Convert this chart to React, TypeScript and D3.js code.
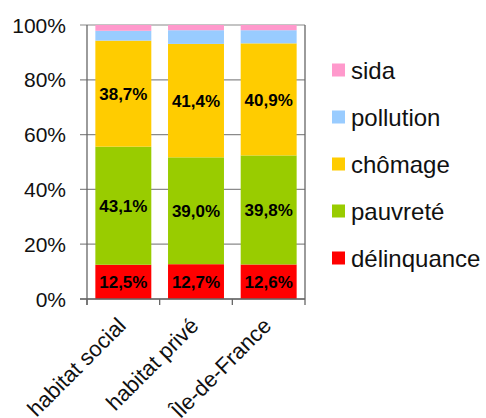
import React from "react";
import * as d3 from "d3";

const categories = ["habitat social", "habitat privé", "Île-de-France"];
const seriesNames = ["délinquance", "pauvreté", "chômage", "pollution", "sida"];
const delinquance = [12.5, 12.7, 12.6];
const pauvrete = [43.1, 39.0, 39.8];
const chomage = [38.7, 41.4, 40.9];
const pollution = [3.6, 5.0, 4.8];
const sida = [2.1, 1.9, 1.9];
const labelled = [true, true, true, false, false];
const colors = ["#FF0000", "#99CC00", "#FFCC00", "#99CCFF", "#FF99CC"];
const yTicks = [0, 20, 40, 60, 80, 100];

const W = 486;
const H = 418;
const left = 87;
const right = 305;
const top = 25;
const bottom = 299;
const font = "'Liberation Sans', Arial, sans-serif";

export default function App() {
  const values = [delinquance, pauvrete, chomage, pollution, sida];
  const rows = categories.map((c, i) => {
    const r: any = { cat: c };
    seriesNames.forEach((s, j) => (r[s] = values[j][i]));
    return r;
  });
  const stacked = d3.stack().keys(seriesNames)(rows);
  const x = d3.scaleBand().domain(categories).range([left, right]).paddingInner(0.23).paddingOuter(0.115);
  const xb = d3.scaleBand().domain(categories).range([left, right]);
  const y = d3.scaleLinear().domain([0, 100]).range([bottom, top]);

  return (
    <svg width={W} height={H} style={{ position: "absolute", left: 0, top: 0 }} fontFamily={font}>
      <rect width={W} height={H} fill="#fff" />
      {yTicks.map((t) => (
        <g key={t}>
          <line x1={80} x2={right} y1={y(t)} y2={y(t)} stroke="#8a8a8a" strokeWidth={1.2} />
          <text x={66} y={y(t)} dy="0.36em" textAnchor="end" fontSize={21} fill="#111">
            {t}%
          </text>
        </g>
      ))}
      {stacked.map((layer, j) => (
        <g key={layer.key}>
          {layer.map((d, i) => (
            <rect
              key={i}
              x={x(categories[i])}
              width={x.bandwidth()}
              y={y(d[1])}
              height={y(d[0]) - y(d[1])}
              fill={colors[j]}
            />
          ))}
          {labelled[j] &&
            layer.map((d, i) => (
              <text
                key={"t" + i}
                x={(x(categories[i]) as number) + x.bandwidth() / 2}
                y={(y(d[0]) + y(d[1])) / 2}
                dy="0.36em"
                textAnchor="middle"
                fontSize={17}
                fontWeight="bold"
                fill="#000"
              >
                {values[j][i].toFixed(1).replace(".", ",")}%
              </text>
            ))}
        </g>
      ))}
      <line x1={left} x2={left} y1={top} y2={bottom + 6} stroke="#666" strokeWidth={1.3} />
      <line x1={right} x2={right} y1={top} y2={bottom + 6} stroke="#666" strokeWidth={1.3} />
      <line x1={80} x2={right} y1={bottom} y2={bottom} stroke="#666" strokeWidth={1.3} />
      {categories.map((c) => (
        <line
          key={c}
          x1={xb(c) as number}
          x2={xb(c) as number}
          y1={bottom}
          y2={bottom + 6}
          stroke="#666"
          strokeWidth={1.3}
        />
      ))}
      {categories.map((c) => {
        const cx = (xb(c) as number) + xb.bandwidth() / 2 + 4;
        const cy = bottom + 28;
        return (
          <text
            key={c}
            transform={`translate(${cx},${cy}) rotate(-45)`}
            textAnchor="end"
            fontSize={22}
            fill="#111"
          >
            {c}
          </text>
        );
      })}
      {seriesNames
        .slice()
        .reverse()
        .map((s, k) => {
          const j = seriesNames.length - 1 - k;
          const cy = 70 + k * 47;
          return (
            <g key={s}>
              <rect x={332} y={cy - 6.5} width={13} height={13} fill={colors[j]} />
              <text x={351} y={cy} dy="0.36em" fontSize={24} fill="#111">
                {s}
              </text>
            </g>
          );
        })}
    </svg>
  );
}
